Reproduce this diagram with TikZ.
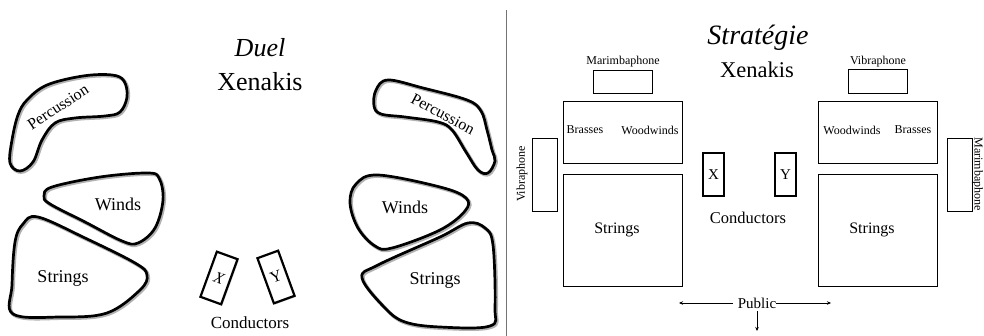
\documentclass[tikz,border=0pt]{standalone}
\usepackage{fontspec}
\setmainfont{Liberation Serif}
\usetikzlibrary{arrows.meta,shadows}
\tikzset{
  blob/.style={line width=2.7pt,line join=round},
  blobshadow/.style={line width=3.5pt,black!30,line join=round,shift={(1.2,1.2)}},
  lab/.style={inner sep=0pt,font=\fontsize{18}{20}\selectfont},
  biglab/.style={inner sep=0pt,font=\fontsize{26}{28}\selectfont},
  midlab/.style={inner sep=0pt,font=\fontsize{16}{18}\selectfont},
  smalllab/.style={inner sep=0pt,font=\fontsize{12}{14}\selectfont},
  cond/.style={draw,line width=2.2pt,fill=white,minimum width=22pt,minimum height=48pt,inner sep=0pt,
    font=\fontsize{16}{18}\selectfont\itshape,
    drop shadow={shadow xshift=1.2pt,shadow yshift=-1.2pt,fill=black!45}},
  condbox/.style={draw,line width=2pt,fill=white,minimum width=21pt,minimum height=43pt,inner sep=0pt,
    font=\fontsize{15}{17}\selectfont,
    drop shadow={shadow xshift=1.2pt,shadow yshift=-1.2pt,fill=black!45}},
  ibox/.style={draw,line width=0.8pt,fill=white,inner sep=0pt,
    drop shadow={shadow xshift=1.3pt,shadow yshift=-1.3pt,fill=black!50}},
  arr/.style={line width=0.6pt,-{Stealth[length=4pt,width=3.5pt]}}
}
\begin{document}
\begin{tikzpicture}[x=1pt,y=-1pt]
\useasboundingbox (0,0) rectangle (984,336);
\fill[white] (0,0) rectangle (984,336);
% divider
\draw[black!55,line width=1pt] (506,10) -- (506,336);

% ---------- Duel ----------
\node[biglab,font=\fontsize{26}{28}\selectfont\itshape] (duel) at (260,48) {Duel};
\node[biglab] (xen1) at (260,82) {Xenakis};

% left percussion
\draw[blobshadow] plot[smooth cycle,tension=0.6] coordinates {(10,163) (12,140) (18,115) (27,100) (47,85) (83,76) (112,75) (124,81) (127,97) (120,112) (105,116) (75,118) (55,123) (42,140) (33,162) (20,171)};
\draw[blob] plot[smooth cycle,tension=0.6] coordinates {(10,163) (12,140) (18,115) (27,100) (47,85) (83,76) (112,75) (124,81) (127,97) (120,112) (105,116) (75,118) (55,123) (42,140) (33,162) (20,171)};
\node[midlab,rotate=33] (perc1) at (58,107) {Percussion};

% left winds
\draw[blobshadow] plot[smooth cycle,tension=0.6] coordinates {(44,196) (52,187) (100,177) (147,173) (159,178) (163,200) (155,228) (138,243) (122,241) (85,222) (50,204)};
\draw[blob] plot[smooth cycle,tension=0.6] coordinates {(44,196) (52,187) (100,177) (147,173) (159,178) (163,200) (155,228) (138,243) (122,241) (85,222) (50,204)};
\node[lab] (winds1) at (118,204) {Winds};

% left strings
\draw[blobshadow] plot[smooth cycle,tension=0.6] coordinates {(13,314) (12,285) (15,242) (23,224) (38,217) (85,238) (135,263) (147,275) (140,290) (107,313) (60,317)};
\draw[blob] plot[smooth cycle,tension=0.6] coordinates {(13,314) (12,285) (15,242) (23,224) (38,217) (85,238) (135,263) (147,275) (140,290) (107,313) (60,317)};
\node[lab] (str1) at (63,278) {Strings};

% conductors
\node[cond,rotate=-20] (cx) at (219,278) {X};
\node[cond,rotate=20,font=\fontsize{16}{18}\selectfont] (cy) at (276,277) {Y};
\node[lab,font=\fontsize{17}{19}\selectfont] (cond1) at (250,323) {Conductors};

% right percussion
\draw[blobshadow] plot[smooth cycle,tension=0.6] coordinates {(374,106) (376,90) (388,80) (423,88) (467,100) (481,111) (487,130) (492,150) (495,161) (488,173) (478,170) (466,152) (452,130) (438,122) (405,117) (381,114)};
\draw[blob] plot[smooth cycle,tension=0.6] coordinates {(374,106) (376,90) (388,80) (423,88) (467,100) (481,111) (487,130) (492,150) (495,161) (488,173) (478,170) (466,152) (452,130) (438,122) (405,117) (381,114)};
\node[midlab,rotate=-28] (perc2) at (443,114) {Percussion};

% right winds
\draw[blobshadow] plot[smooth cycle,tension=0.6] coordinates {(350,203) (356,184) (378,175) (440,187) (466,198) (465,211) (440,230) (392,248) (375,246) (358,228)};
\draw[blob] plot[smooth cycle,tension=0.6] coordinates {(350,203) (356,184) (378,175) (440,187) (466,198) (465,211) (440,230) (392,248) (375,246) (358,228)};
\node[lab] (winds2) at (405,207) {Winds};

% right strings
\draw[blobshadow] plot[smooth cycle,tension=0.6] coordinates {(362,278) (378,265) (440,237) (468,223) (485,228) (493,245) (495,307) (490,326) (440,327) (405,322) (385,308)};
\draw[blob] plot[smooth cycle,tension=0.6] coordinates {(362,278) (378,265) (440,237) (468,223) (485,228) (493,245) (495,307) (490,326) (440,327) (405,322) (385,308)};
\node[lab] (str2) at (435,280) {Strings};

% ---------- Strategie ----------
\node[inner sep=0pt,font=\fontsize{28}{30}\selectfont\itshape] (strat) at (758,38) {Stratégie};
\node[inner sep=0pt,font=\fontsize{22.5}{24}\selectfont] (xen2) at (757,70) {Xenakis};

% left group
\node[ibox,minimum width=59pt,minimum height=23pt] (marL) at (622.5,81.5) {};
\node[smalllab] (marLt) at (623,62) {Marimbaphone};
\node[ibox,minimum width=119pt,minimum height=62pt] (bwL) at (622.5,132) {};
\node[smalllab] (brL) at (585,130) {Brasses};
\node[smalllab] (wwL) at (650,130) {Woodwinds};
\node[ibox,minimum width=119pt,minimum height=112pt] (stL) at (622.5,230) {};
\node[midlab] (stLt) at (617,230) {Strings};
\node[ibox,minimum width=25pt,minimum height=73pt] (vibL) at (544.5,174.5) {};
\node[smalllab,rotate=90] (vibLt) at (522,174) {Vibraphone};

% conductors
\node[condbox] (sx) at (713.5,174.5) {X};
\node[condbox] (sy) at (785.5,174.5) {Y};
\node[inner sep=0pt,font=\fontsize{16.5}{18}\selectfont] (cond2) at (748,218) {Conductors};

% right group
\node[ibox,minimum width=59pt,minimum height=24pt] (vibR) at (877.5,81) {};
\node[smalllab] (vibRt) at (878,62) {Vibraphone};
\node[ibox,minimum width=119pt,minimum height=62pt] (bwR) at (877.5,132) {};
\node[smalllab] (wwR) at (852,130) {Woodwinds};
\node[smalllab] (brR) at (913,130) {Brasses};
\node[ibox,minimum width=119pt,minimum height=112pt] (stR) at (877.5,230) {};
\node[midlab] (stRt) at (872,230) {Strings};
\node[ibox,minimum width=25pt,minimum height=73pt] (marR) at (959.5,174.5) {};
\node[smalllab,rotate=-90] (marRt) at (977.5,174) {Marimbaphone};

% public
\node[inner sep=0pt,font=\fontsize{15}{17}\selectfont] (pub) at (757,303) {Public};
\coordinate (pl) at (679,303);
\coordinate (pr) at (831,303);
\coordinate (pd) at (757,331);
\draw[arr] ([xshift=-5pt]pub.west) -- (pl);
\draw[arr] (pub.east) -- (pr);
\draw[arr] ([yshift=-3pt]pub.south) -- (pd);
\end{tikzpicture}
\end{document}
